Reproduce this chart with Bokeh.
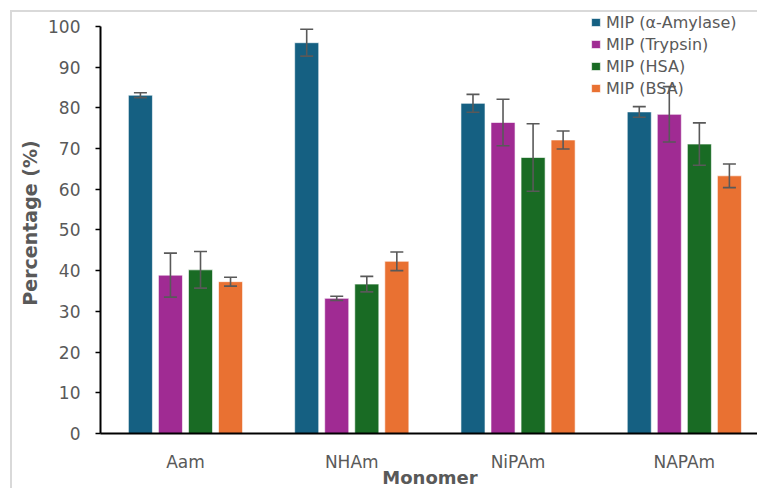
from bokeh.plotting import figure
from bokeh.models import (ColumnDataSource, Whisker, TeeHead, FixedTicker, Legend,
                          LegendItem, Range1d)
from bokeh.embed import file_html
from bokeh.resources import INLINE

categories = ["Aam", "NHAm", "NiPAm", "NAPAm"]
series_names = ["MIP (α-Amylase)", "MIP (Trypsin)", "MIP (HSA)", "MIP (BSA)"]
amylase = [83.1, 96.0, 81.1, 79.0]
amylase_err = [0.6, 3.3, 2.2, 1.3]
trypsin = [38.9, 33.2, 76.4, 78.4]
trypsin_err = [5.4, 0.5, 5.7, 6.8]
hsa = [40.2, 36.7, 67.8, 71.1]
hsa_err = [4.5, 1.9, 8.3, 5.2]
bsa = [37.3, 42.3, 72.1, 63.3]
bsa_err = [1.1, 2.3, 2.2, 2.9]
y_ticks = [0, 10, 20, 30, 40, 50, 60, 70, 80, 90, 100]

colors = ["#156082", "#A02B93", "#196B24", "#E97132"]
values = [amylase, trypsin, hsa, bsa]
errors = [amylase_err, trypsin_err, hsa_err, bsa_err]

GRAY = "#595959"
FONT = "DejaVu Sans"

p = figure(width=747, height=478, output_backend="svg", toolbar_location=None,
           x_range=Range1d(-0.011, 3.952), y_range=Range1d(0, 103.42),
           min_border_left=88, min_border_right=0, min_border_top=0,
           min_border_bottom=53)
p.margin = (10, 0, 0, 10)
p.styles = {"border-top": "2px solid #d9d9d9", "border-left": "2px solid #d9d9d9"}
p.outline_line_color = None
p.xgrid.grid_line_color = None
p.ygrid.grid_line_color = None

offsets = [-0.271, -0.0904, 0.0904, 0.271]
bar_w = 0.1446
items = []
for k in range(4):
    xs = [i + 0.5 + offsets[k] for i in range(len(categories))]
    src = ColumnDataSource(dict(
        x=xs, top=values[k],
        upper=[v + e for v, e in zip(values[k], errors[k])],
        lower=[v - e for v, e in zip(values[k], errors[k])]))
    r = p.vbar(x="x", top="top", width=bar_w, bottom=0, source=src,
               fill_color=colors[k], line_color="white", line_alpha=0.6, line_width=1)
    items.append(LegendItem(label=series_names[k], renderers=[r]))
    w = Whisker(source=src, base="x", upper="upper", lower="lower",
                line_color=GRAY, line_width=1.6, level="overlay",
                upper_head=TeeHead(size=13, line_color=GRAY, line_width=1.6),
                lower_head=TeeHead(size=13, line_color=GRAY, line_width=1.6))
    p.add_layout(w)

# x axis
p.xaxis.ticker = FixedTicker(ticks=[i + 0.5 for i in range(len(categories))])
p.xaxis.major_label_overrides = {i + 0.5: c for i, c in enumerate(categories)}
p.xaxis.major_tick_line_color = None
p.xaxis.major_tick_out = 0
p.xaxis.minor_tick_line_color = None
p.xaxis.axis_line_color = "black"
p.xaxis.axis_line_width = 2
p.xaxis.major_label_text_font = FONT
p.xaxis.major_label_text_font_size = "17px"
p.xaxis.major_label_text_color = GRAY
p.xaxis.major_label_standoff = 18
p.xaxis.axis_label = "Monomer"
p.xaxis.axis_label_text_font = FONT
p.xaxis.axis_label_text_font_size = "18px"
p.xaxis.axis_label_text_font_style = "bold"
p.xaxis.axis_label_text_color = GRAY
p.xaxis.axis_label_standoff = -8

# y axis
p.yaxis.ticker = FixedTicker(ticks=y_ticks)
p.yaxis.bounds = (0, 100)
p.yaxis.minor_tick_line_color = None
p.yaxis.major_tick_out = 5
p.yaxis.major_tick_in = 0
p.yaxis.major_tick_line_color = "black"
p.yaxis.major_tick_line_width = 1.5
p.yaxis.axis_line_color = "black"
p.yaxis.axis_line_width = 2
p.yaxis.major_label_text_font = FONT
p.yaxis.major_label_text_font_size = "17px"
p.yaxis.major_label_text_color = GRAY
p.yaxis.major_label_standoff = 15
p.yaxis.axis_label = "Percentage (%)"
p.yaxis.axis_label_text_font = FONT
p.yaxis.axis_label_text_font_size = "19px"
p.yaxis.axis_label_text_font_style = "bold"
p.yaxis.axis_label_text_color = GRAY
p.yaxis.axis_label_standoff = 4

legend = Legend(items=items, location="top_right", margin=0, padding=0,
                spacing=2, glyph_width=11, glyph_height=10, label_height=20,
                label_width=153, label_standoff=5,
                label_text_font=FONT, label_text_font_size="16px",
                label_text_color=GRAY, background_fill_alpha=0,
                border_line_color=None)
p.add_layout(legend)

open("out.html", "w").write(file_html(p, INLINE))
